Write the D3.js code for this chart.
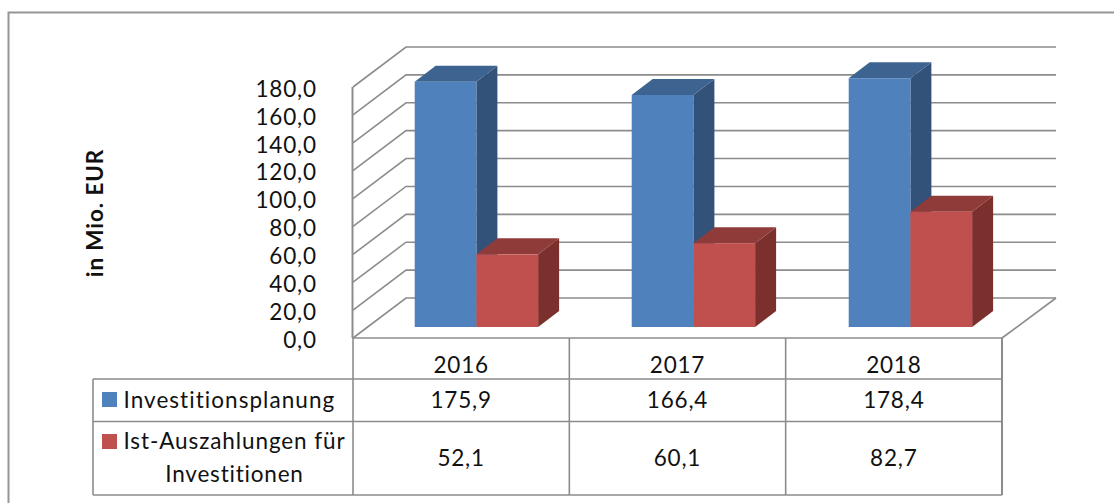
<!DOCTYPE html>
<html><head><meta charset="utf-8">
<script src="https://cdn.jsdelivr.net/npm/d3@7/dist/d3.min.js"></script>
<style>html,body{margin:0;padding:0;background:#fff}svg{display:block}text{font-family:Lato,"Open Sans",sans-serif;fill:#111;font-variant-ligatures:none;letter-spacing:.8px}</style>
</head><body><svg id="c" width="1114" height="503"></svg>
<script>
const categories = ["2016","2017","2018"];
const planung = [175.9,166.4,178.4];
const ist = [52.1,60.1,82.7];
const seriesNames = ["Investitionsplanung","Ist-Auszahlungen für"];
const seriesNames2 = ["","Investitionen"];
const planungLabels = ["175,9","166,4","178,4"];
const istLabels = ["52,1","60,1","82,7"];
const yTicks = [0,20,40,60,80,100,120,140,160,180];
const yTitle = "in Mio. EUR";

const svg=d3.select("#c");
const grey="#8c8c8c";
const y=d3.scaleLinear().domain([0,180]).range([338,87]);
const x=d3.scaleBand().domain(categories).range([353,1002]);
const xBars=d3.scaleBand().domain(categories).range([353,1004]);
const depthX=53,depthY=40;
const barDX=21,barDY=16;
const fmt=d=>d3.format(".1f")(d).replace(".",",");
const fs=22.5;

// frame
svg.append("path").attr("d","M8.5,503V12.5H1114").attr("fill","none").attr("stroke","#969696").attr("stroke-width",2);

// walls
const g=svg.append("g").attr("fill","none").attr("stroke",grey).attr("stroke-width",1.6);
yTicks.forEach(t=>{
  const yy=y(t);
  g.append("path").attr("d",`M353,${yy}L${353+depthX},${yy-depthY}H1056`);
});
g.append("path").attr("d",`M352.5,${y(180)}V${y(0)}`).attr("stroke-width",2);
g.append("path").attr("d",`M1002,${y(0)}L1056,${y(0)-depthY}`);

// bars
const hue={b:{f:"#4f81bd",t:"#3d6390",s:"#32527a"},r:{f:"#c0504d",t:"#8f3b39",s:"#7c302e"}};
function bar(x0,w,v,c){
  const base=327, top=base-(y(0)-y(v));
  const b=svg.append("g");
  b.append("path").attr("fill",c.s).attr("d",`M${x0+w},${top}l${barDX},${-barDY}V${base-barDY}L${x0+w},${base}Z`);
  b.append("path").attr("fill",c.t).attr("d",`M${x0},${top}l${barDX},${-barDY}h${w}l${-barDX},${barDY}Z`);
  b.append("rect").attr("fill",c.f).attr("x",x0).attr("y",top).attr("width",w).attr("height",base-top);
}
const barW=61.7;
categories.forEach((c,i)=>{
  const x0=xBars(c)+61.7;
  bar(x0,barW,planung[i],hue.b);
  bar(x0+barW,barW,ist[i],hue.r);
});

// y labels
svg.append("g").selectAll("text").data(yTicks).join("text")
  .attr("x",316.8).attr("y",d=>y(d)+9.8).attr("text-anchor","end").attr("font-size",fs).text(fmt);
svg.append("text").attr("transform","translate(103,213) rotate(-90)").attr("text-anchor","middle")
  .attr("font-size",22.5).attr("font-weight",700).style("letter-spacing","0.9px").text(yTitle);

// table
const rows=[379,421.5,495];
const t=svg.append("g").attr("fill","none").attr("stroke",grey).attr("stroke-width",1.6);
t.append("path").attr("d",`M353,338H1002`);
t.append("path").attr("d",`M93,${rows[0]}H1002M93,${rows[1]}H1002M93,${rows[2]}H1002`);
t.append("path").attr("d",`M93,${rows[0]}V${rows[2]}`);
x.domain().forEach(c=>t.append("path").attr("d",`M${x(c)},338V${rows[2]}`));
t.append("path").attr("d",`M1002,338V${rows[2]}`).attr("stroke-width",2);

const ctr=c=>x(c)+x.bandwidth()/2;
const tb=svg.append("g").attr("font-size",fs).attr("text-anchor","middle");
categories.forEach((c,i)=>{
  tb.append("text").attr("x",ctr(c)).attr("y",373).text(c);
  tb.append("text").attr("x",ctr(c)).attr("y",408).text(planungLabels[i]);
  tb.append("text").attr("x",ctr(c)).attr("y",466).text(istLabels[i]);
});
// legend cells
svg.append("rect").attr("x",102).attr("y",392).attr("width",15).attr("height",15).attr("fill",hue.b.f);
svg.append("rect").attr("x",102).attr("y",434).attr("width",15).attr("height",15).attr("fill",hue.r.f);
svg.append("text").attr("x",123.5).attr("y",408).attr("font-size",fs).style("letter-spacing","1.05px").text(seriesNames[0]);
svg.append("text").attr("x",123.5).attr("y",449).attr("font-size",fs).style("letter-spacing","0.9px").text(seriesNames[1]);
svg.append("text").attr("x",234.5).attr("y",482).attr("font-size",fs).attr("text-anchor","middle").text(seriesNames2[1]);
</script></body></html>
